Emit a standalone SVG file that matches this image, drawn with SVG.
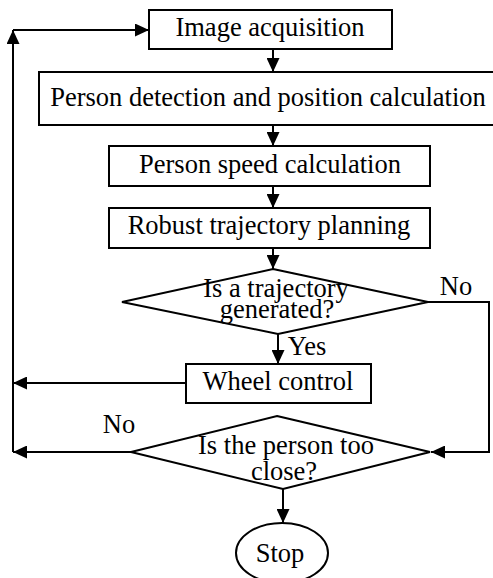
<svg xmlns="http://www.w3.org/2000/svg" width="493" height="578" viewBox="0 0 493 578">
<style>
.n{fill:#fff;stroke:#000;stroke-width:2}
.t{font-family:"Liberation Serif","Times New Roman",serif;font-size:26.5px;fill:#000;text-anchor:middle}
.c{fill:none;stroke:#000;stroke-width:2}
</style>
<defs>
<marker id="a" markerUnits="userSpaceOnUse" markerWidth="14" markerHeight="13" refX="14" refY="6.5" orient="auto">
<path d="M0,0 L14,6.5 L0,13 z" fill="#000"/>
</marker>
</defs>
<rect width="493" height="578" fill="#fff"/>
<g id="connectors">
<path class="c" d="M273,49 V72" marker-end="url(#a)"/>
<path class="c" d="M273,125 V146" marker-end="url(#a)"/>
<path class="c" d="M273,186 V208" marker-end="url(#a)"/>
<path class="c" d="M273,248 V269" marker-end="url(#a)"/>
<path class="c" d="M278,334 V364" marker-end="url(#a)"/>
<path class="c" d="M428,302 H489 V452 H431" marker-end="url(#a)"/>
<path class="c" d="M186,383 H13" marker-end="url(#a)"/>
<path class="c" d="M131,452 H13" marker-end="url(#a)"/>
<path class="c" d="M13,452 V30" marker-end="url(#a)"/>
<path class="c" d="M13,30 H149" marker-end="url(#a)"/>
<path class="c" d="M283,489 V523" marker-end="url(#a)"/>
</g>
<g id="image-acquisition">
<rect class="n" x="149" y="10" width="243" height="39"/>
<text class="t" x="270" y="36">Image acquisition</text>
</g>
<g id="person-detection">
<rect class="n" x="39" y="72" width="460" height="53"/>
<text class="t" x="268" y="106">Person detection and position calculation</text>
</g>
<g id="person-speed">
<rect class="n" x="109" y="146" width="321" height="40"/>
<text class="t" x="270" y="173">Person speed calculation</text>
</g>
<g id="trajectory-planning">
<rect class="n" x="109" y="208" width="321" height="40"/>
<text class="t" x="269" y="234">Robust trajectory planning</text>
</g>
<g id="trajectory-decision">
<polygon class="n" points="273,269 428,302 278,334 122,302"/>
<text class="t" x="276" y="297">Is a trajectory</text>
<text class="t" x="277" y="318">generated?</text>
<text class="t" x="456" y="295">No</text>
<text class="t" x="307" y="355">Yes</text>
</g>
<g id="wheel-control">
<rect class="n" x="186" y="364" width="185" height="39"/>
<text class="t" x="278" y="390">Wheel control</text>
</g>
<g id="distance-decision">
<polygon class="n" points="277,416 430,452 283,489 131,452"/>
<text class="t" x="286" y="454">Is the person too</text>
<text class="t" x="284" y="480">close?</text>
<text class="t" x="119" y="433">No</text>
</g>
<g id="stop">
<ellipse class="n" cx="282" cy="553" rx="46" ry="30"/>
<text class="t" x="280" y="562">Stop</text>
</g>
</svg>
